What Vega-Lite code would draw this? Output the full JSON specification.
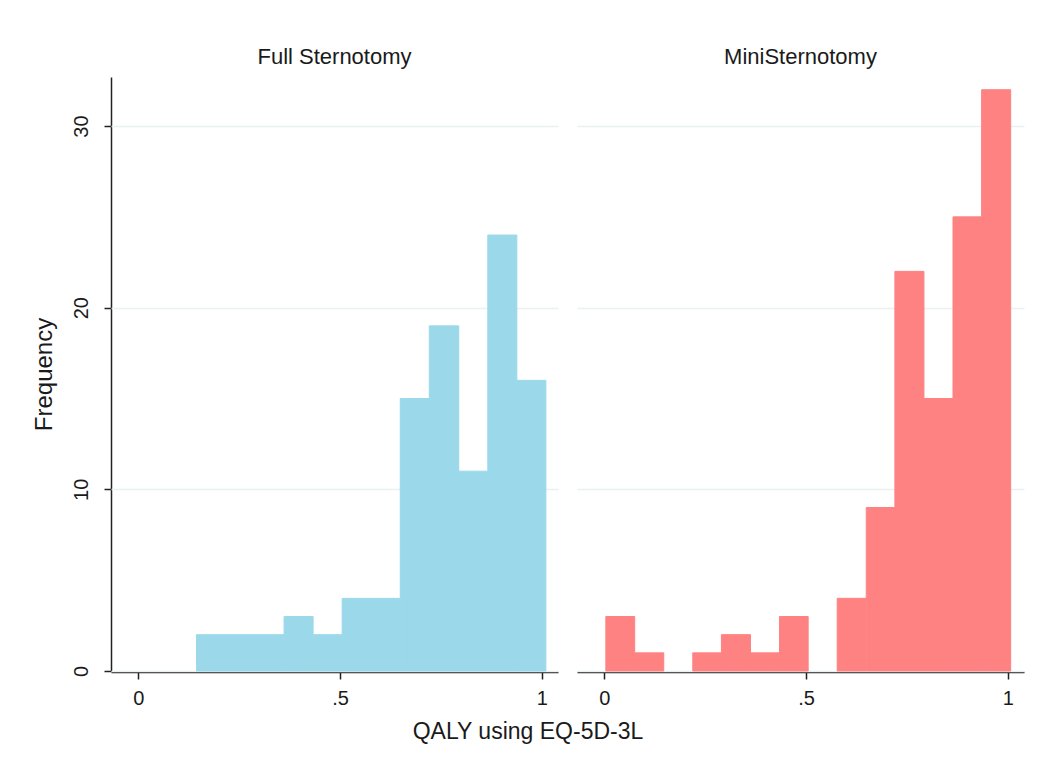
{
  "$schema": "https://vega.github.io/schema/vega-lite/v6.json",
  "padding": {"left": 32, "top": 46, "right": 26, "bottom": 10},
  "background": "white",
  "data": {"values": [
    {"group": "Full Sternotomy", "bin_start": 0.144, "bin_end": 0.216, "count": 2},
    {"group": "Full Sternotomy", "bin_start": 0.216, "bin_end": 0.288, "count": 2},
    {"group": "Full Sternotomy", "bin_start": 0.288, "bin_end": 0.361, "count": 2},
    {"group": "Full Sternotomy", "bin_start": 0.361, "bin_end": 0.433, "count": 3},
    {"group": "Full Sternotomy", "bin_start": 0.433, "bin_end": 0.505, "count": 2},
    {"group": "Full Sternotomy", "bin_start": 0.505, "bin_end": 0.577, "count": 4},
    {"group": "Full Sternotomy", "bin_start": 0.577, "bin_end": 0.649, "count": 4},
    {"group": "Full Sternotomy", "bin_start": 0.649, "bin_end": 0.721, "count": 15},
    {"group": "Full Sternotomy", "bin_start": 0.721, "bin_end": 0.794, "count": 19},
    {"group": "Full Sternotomy", "bin_start": 0.794, "bin_end": 0.866, "count": 11},
    {"group": "Full Sternotomy", "bin_start": 0.866, "bin_end": 0.938, "count": 24},
    {"group": "Full Sternotomy", "bin_start": 0.938, "bin_end": 1.010, "count": 16},
    {"group": "MiniSternotomy", "bin_start": 0.0035, "bin_end": 0.075, "count": 3},
    {"group": "MiniSternotomy", "bin_start": 0.075, "bin_end": 0.147, "count": 1},
    {"group": "MiniSternotomy", "bin_start": 0.219, "bin_end": 0.290, "count": 1},
    {"group": "MiniSternotomy", "bin_start": 0.290, "bin_end": 0.362, "count": 2},
    {"group": "MiniSternotomy", "bin_start": 0.362, "bin_end": 0.434, "count": 1},
    {"group": "MiniSternotomy", "bin_start": 0.434, "bin_end": 0.505, "count": 3},
    {"group": "MiniSternotomy", "bin_start": 0.577, "bin_end": 0.649, "count": 4},
    {"group": "MiniSternotomy", "bin_start": 0.649, "bin_end": 0.720, "count": 9},
    {"group": "MiniSternotomy", "bin_start": 0.720, "bin_end": 0.792, "count": 22},
    {"group": "MiniSternotomy", "bin_start": 0.792, "bin_end": 0.864, "count": 15},
    {"group": "MiniSternotomy", "bin_start": 0.864, "bin_end": 0.935, "count": 25},
    {"group": "MiniSternotomy", "bin_start": 0.935, "bin_end": 1.007, "count": 32}
  ]},
  "facet": {
    "column": {
      "field": "group", "type": "nominal",
      "sort": ["Full Sternotomy", "MiniSternotomy"],
      "header": {"title": null, "labelFontSize": 22, "labelFont": "Liberation Sans", "labelColor": "#1a1a1a", "labelPadding": 8}
    }
  },
  "spacing": {"column": 19},
  "spec": {
    "width": 447,
    "height": 594,
    "mark": {"type": "rect", "strokeWidth": 1},
    "encoding": {
      "x": {
        "field": "bin_start", "type": "quantitative",
        "scale": {"domain": [-0.068, 1.04], "nice": false, "zero": false},
        "axis": {
          "title": null, "values": [0, 0.5, 1],
          "labelExpr": "datum.value == 0 ? '0' : datum.value == 1 ? '1' : '.5'",
          "labelFont": "Liberation Sans", "labelFontSize": 20, "labelColor": "#1a1a1a", "labelPadding": 9,
          "tickSize": 7, "tickColor": "#222222", "tickWidth": 1.5,
          "domainColor": "#222222", "domainWidth": 1.5, "grid": false
        }
      },
      "x2": {"field": "bin_end"},
      "y": {
        "field": "count", "type": "quantitative",
        "scale": {"domain": [0, 32.7], "nice": false},
        "axis": {
          "title": "Frequency", "values": [0, 10, 20, 30],
          "titleFont": "Liberation Sans", "titleFontSize": 24, "titleFontWeight": "normal", "titleColor": "#1a1a1a", "titlePadding": 15,
          "labelFont": "Liberation Sans", "labelFontSize": 20, "labelColor": "#1a1a1a", "labelAngle": -90,
          "labelAlign": "center", "labelBaseline": "bottom", "labelPadding": 13,
          "tickSize": 7, "tickColor": "#222222", "tickWidth": 1.5,
          "domainColor": "#222222", "domainWidth": 1.5,
          "grid": true, "gridColor": "#eaf1f3", "gridWidth": 1.5
        }
      },
      "y2": {"datum": 0},
      "color": {
        "field": "group", "type": "nominal",
        "scale": {"domain": ["Full Sternotomy", "MiniSternotomy"], "range": ["#9bd9ea", "#ff8282"]},
        "legend": null
      },
      "stroke": {
        "field": "group", "type": "nominal",
        "scale": {"domain": ["Full Sternotomy", "MiniSternotomy"], "range": ["#9bd9ea", "#ff8282"]},
        "legend": null
      }
    }
  },
  "title": {"text": "QALY using EQ-5D-3L", "orient": "bottom", "anchor": "middle", "font": "Liberation Sans", "fontSize": 23, "fontWeight": "normal", "color": "#1a1a1a", "offset": 13},
  "config": {"view": {"stroke": null}}
}
